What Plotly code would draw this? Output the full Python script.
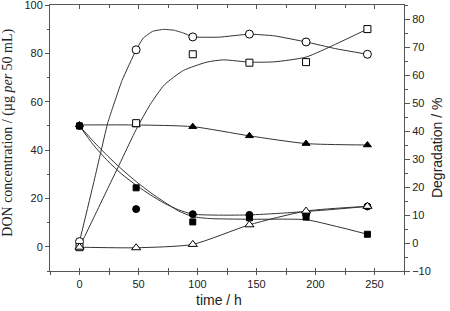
import plotly.graph_objects as go

# ---- data ----
time_h = [0, 48, 96, 144, 192, 244]

don_square = [50, 24.4, 10.3, 12.0, 12.3, 5.2]
don_circle = [50, 15.6, 13.5, 13.2, 13.5, 16.7]
don_triangle = [50.4, 50.4, 49.7, 45.9, 42.7, 42.1]

deg_circle = [0.5, 69.0, 73.6, 74.6, 71.8, 67.4]
deg_square = [-1.5, 42.8, 67.4, 64.4, 64.6, 76.4]
deg_triangle = [-1.5, -1.7, -0.5, 6.5, 11.4, 13.1]

# smoothed curves
fit_square_t = [0, 12, 24, 36, 48, 60, 72, 84, 96, 110, 144, 192, 218, 244]
fit_square_v = [50, 43.5, 37.5, 32, 27, 22.5, 18.5, 14.8, 12.5, 11.7, 11.4, 11.2, 8.4, 5.2]

fit_circle_t = [0, 12, 24, 36, 48, 60, 72, 84, 96, 120, 144, 168, 192, 218, 244]
fit_circle_v = [50, 42, 35.5, 30, 25.5, 21.5, 18, 15.3, 13.5, 13.1, 13.2, 13.8, 14.6, 15.6, 16.7]

curve_degc_t = [0, 12, 24, 36, 48, 54, 62, 71, 80, 88, 96, 118, 144, 165, 192, 217, 244]
curve_degc_v = [0.5, 21.5, 43, 58, 69, 73.2, 75.6, 76.3, 76.0, 75.0, 73.6, 73.5, 74.6, 74, 71.8, 69.4, 67.4]

curve_degs_t = [0, 12, 24, 36, 48, 60, 72, 88, 108, 122, 144, 165, 192, 217, 244]
curve_degs_v = [-1.5, 9, 19.5, 30, 40.5, 49.5, 56.5, 61.6, 64.6, 65.4, 64.6, 64.7, 66.4, 71, 76.4]

x_ticks = [0, 50, 100, 150, 200, 250]

fig = go.Figure()

def add_line(x, y, yaxis, smooth=0.6):
    fig.add_trace(go.Scatter(x=x, y=y, mode="lines", yaxis=yaxis,
                             line=dict(color="#333333", width=1, shape="spline", smoothing=smooth),
                             hoverinfo="skip", showlegend=False))

add_line(fit_square_t, fit_square_v, "y")
add_line(fit_circle_t, fit_circle_v, "y")
add_line(time_h, don_triangle, "y")
add_line(curve_degc_t, curve_degc_v, "y2", 0.3)
add_line(curve_degs_t, curve_degs_v, "y2")
add_line(time_h, deg_triangle, "y2")

def add_markers(y, yaxis, symbol, size, filled):
    fig.add_trace(go.Scatter(
        x=time_h, y=y, mode="markers", yaxis=yaxis, showlegend=False,
        marker=dict(symbol=symbol, size=size,
                    color="black" if filled else "white",
                    line=dict(color="black", width=1))))

add_markers(deg_circle, "y2", "circle", 8, False)
add_markers(deg_square, "y2", "square", 7, False)
add_markers(deg_triangle, "y2", "triangle-up", 8, False)
add_markers(don_square, "y", "square", 6, True)
add_markers(don_circle, "y", "circle", 7, True)
add_markers(don_triangle, "y", "triangle-up", 7, True)

fig.add_trace(go.Scatter(x=[None], y=[None], xaxis="x2", showlegend=False, hoverinfo="skip"))
fig.add_trace(go.Scatter(x=[None], y=[None], xaxis="x3", showlegend=False, hoverinfo="skip"))

AX = "#555555"
TICKFONT = dict(family="Liberation Sans, Arial", size=11, color="#222222")

fig.update_layout(
    width=450, height=311,
    margin=dict(l=50, r=46, t=5, b=40, autoexpand=False),
    paper_bgcolor="white", plot_bgcolor="white",
    showlegend=False,
    xaxis=dict(range=[-25, 275], tickvals=x_ticks, ticks="outside", ticklen=3,
               tickcolor=AX, linecolor=AX, showline=True, showgrid=False, zeroline=False,
               tickfont=TICKFONT, automargin=False,
               minor=dict(dtick=25, tick0=0, ticks="outside", ticklen=3, tickcolor=AX)),
    xaxis2=dict(range=[-25, 275], overlaying="x", side="bottom", tickvals=x_ticks,
                ticks="inside", ticklen=3, tickcolor=AX, showticklabels=False,
                showline=False, showgrid=False, zeroline=False, automargin=False,
                minor=dict(dtick=25, tick0=0, ticks="inside", ticklen=3, tickcolor=AX)),
    xaxis3=dict(range=[-25, 275], overlaying="x", side="top", tickvals=x_ticks,
                ticks="inside", ticklen=4, tickcolor=AX, showticklabels=False,
                showline=True, linecolor=AX, showgrid=False, zeroline=False, automargin=False,
                minor=dict(dtick=25, tick0=0, ticks="inside", ticklen=3, tickcolor=AX)),
    yaxis=dict(range=[-10, 100.01], tickvals=[0, 20, 40, 60, 80, 100], ticks="outside", ticklen=4,
               tickcolor=AX, linecolor=AX, showline=True, showgrid=False, zeroline=False,
               tickfont=TICKFONT, automargin=False, ticklabeloverflow="allow",
               minor=dict(dtick=10, tick0=0, ticks="outside", ticklen=2, tickcolor=AX)),
    yaxis2=dict(range=[-10, 85], tick0=0, dtick=10, overlaying="y", side="right",
                ticks="outside", ticklen=5, tickcolor=AX, linecolor=AX, showline=True,
                showgrid=False, zeroline=False, tickfont=TICKFONT, automargin=False,
                minor=dict(dtick=5, ticks="outside", ticklen=3, tickcolor=AX)),
    annotations=[
        dict(text="DON concentration / (µg <i>per</i> 50 mL)", xref="paper", yref="paper",
             x=-0.1186, y=0.52, xanchor="center", yanchor="middle", textangle=-90,
             showarrow=False, font=dict(family="Liberation Serif, Times New Roman", size=14, color="#222222")),
        dict(text="Degradation / %", xref="paper", yref="paper",
             x=1.093, y=0.462, xanchor="center", yanchor="middle", textangle=-90,
             showarrow=False, font=dict(family="Liberation Sans, Arial", size=14, color="#222222")),
        dict(text="time / h", xref="paper", yref="paper",
             x=0.477, y=-0.109, xanchor="center", yanchor="middle",
             showarrow=False, font=dict(family="Liberation Sans, Arial", size=14, color="#222222")),
    ],
)

fig.write_html("out.html", config={"displayModeBar": False},
               post_script="document.body.style.margin='0';document.body.style.overflow='hidden';")
